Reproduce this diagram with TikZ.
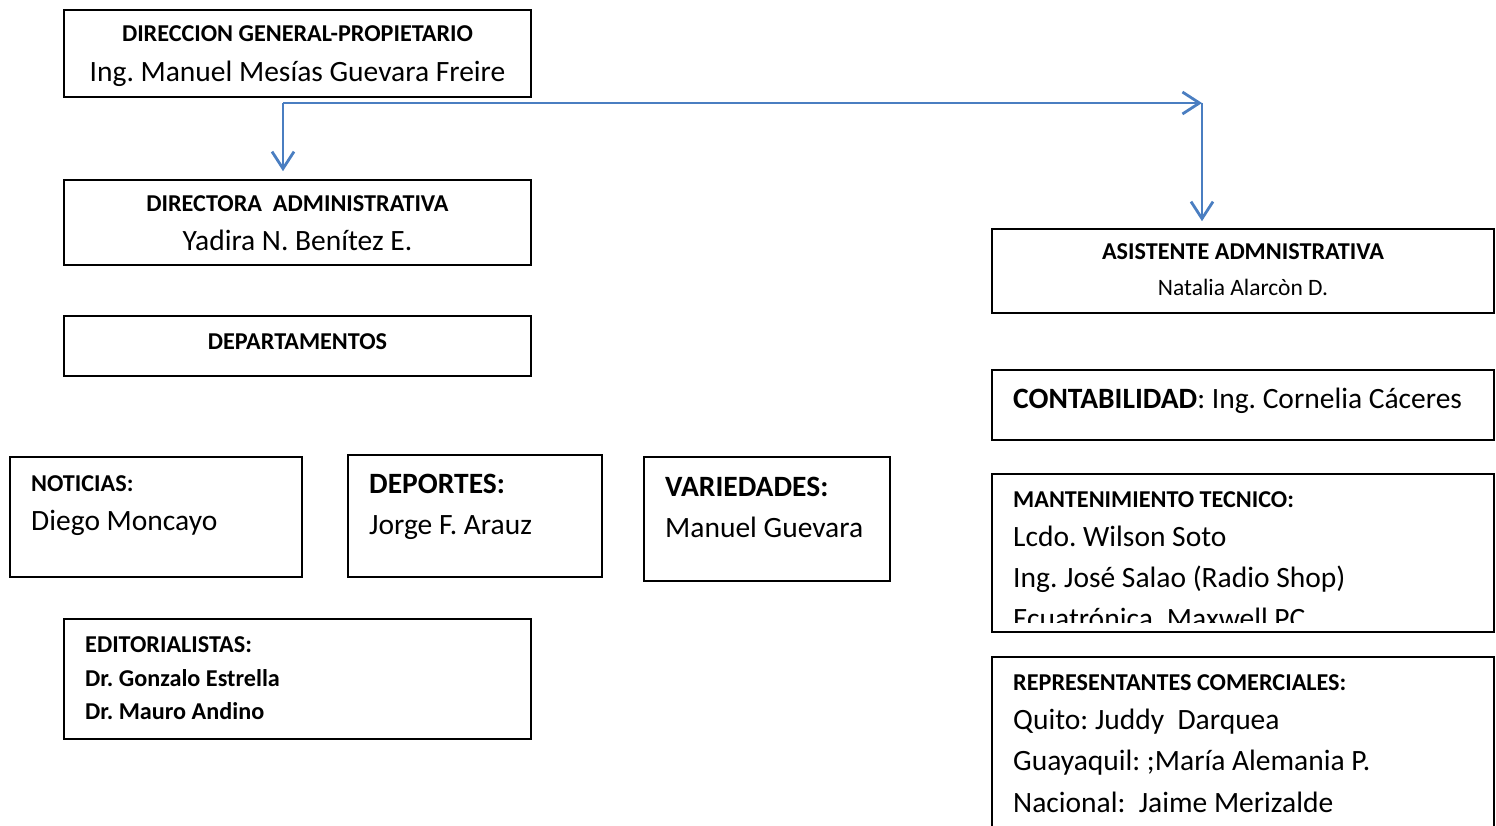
\documentclass[tikz,border=0pt]{standalone}
\usepackage{fontspec}
\setmainfont{Carlito}
\usepackage{tikz}
\usetikzlibrary{arrows.meta}
\definecolor{azul}{RGB}{74,126,193}
\frenchspacing
\newcommand\pq[1]{\fontsize{24.2}{28}\selectfont #1}
\newcommand\gr[1]{\fontsize{29.5}{35}\selectfont #1}
\tikzset{
 caja/.style={draw=black,line width=1.6pt,inner sep=0pt},
 flecha/.style={draw=azul,line width=2.8pt,-{Straight Barb[length=17pt,width=22pt,line width=2.8pt]}},
 izq/.style={anchor=base west,inner sep=0pt},
 cen/.style={anchor=base,inner sep=0pt}
}

\begin{document}
\begin{tikzpicture}[x=1pt,y=-1pt]
\useasboundingbox (0,0) rectangle (1496,826);
% cajas
\node[caja,minimum width=467pt,minimum height=87pt] (gral) at (297.5,53.5) {};
\node[caja,minimum width=467pt,minimum height=85pt] (dir) at (297.5,222.5) {};
\node[caja,minimum width=467pt,minimum height=60pt] (dep) at (297.5,346) {};
\node[caja,minimum width=292pt,minimum height=120pt] (not) at (156,517) {};
\node[caja,minimum width=254pt,minimum height=122pt] (depor) at (475,516) {};
\node[caja,minimum width=246pt,minimum height=124pt] (var) at (767,519) {};
\node[caja,minimum width=467pt,minimum height=120pt] (edit) at (297.5,679) {};
\node[caja,minimum width=502pt,minimum height=84pt] (asis) at (1243,271) {};
\node[caja,minimum width=502pt,minimum height=70pt] (cont) at (1243,405) {};
\node[caja,minimum width=502pt,minimum height=158pt] (mant) at (1243,553) {};
\node[caja,minimum width=502pt,minimum height=180pt] (rep) at (1243,747) {};
% textos
\node[cen] (t1) at (297.5,42) {\pq{\textbf{DIRECCION GENERAL-PROPIETARIO}}};
\node[cen] (t2) at (297.5,82) {\gr{Ing. Manuel Mesías Guevara Freire}};
\node[cen] (t3) at (297.5,212) {\pq{\textbf{DIRECTORA\ \ ADMINISTRATIVA}}};
\node[cen] (t4) at (297.5,251) {\gr{Yadira N. Benítez E.}};
\node[cen] (t5) at (297.5,349) {\pq{\textbf{DEPARTAMENTOS}}};
\node[izq] (t6) at (31,491) {\pq{\textbf{NOTICIAS:}}};
\node[izq] (t7) at (31,530) {\gr{Diego Moncayo}};
\node[izq] (t8) at (369,493) {\gr{\textbf{DEPORTES:}}};
\node[izq] (t9) at (369,534) {\gr{Jorge F. Arauz}};
\node[izq] (t10) at (665,496) {\gr{\textbf{VARIEDADES:}}};
\node[izq] (t11) at (665,537) {\gr{Manuel Guevara}};
\node[izq] (t12) at (85,652) {\pq{\textbf{EDITORIALISTAS:}}};
\node[izq] (t13) at (85,686) {\pq{\textbf{Dr. Gonzalo Estrella}}};
\node[izq] (t14) at (85,719) {\pq{\textbf{Dr. Mauro Andino}}};
\node[cen] (t15) at (1243,260) {\pq{\textbf{ASISTENTE ADMNISTRATIVA}}};
\node[cen] (t16) at (1243,295) {\fontsize{23.5}{28}\selectfont Natalia Alarcòn D.};
\node[izq] (t17) at (1013,408) {\gr{\textbf{CONTABILIDAD}: Ing. Cornelia Cáceres}};
\node[izq] (t18) at (1013,507) {\pq{\textbf{MANTENIMIENTO TECNICO:}}};
\node[izq] (t19) at (1013,546) {\gr{Lcdo. Wilson Soto}};
\node[izq] (t20) at (1013,587) {\gr{Ing. José Salao (Radio Shop)}};
\begin{scope}
\clip (994,480) rectangle (1492,622);
\node[izq] (t21) at (1013,628) {\gr{Ecuatrónica, Maxwell PC}};
\end{scope}
\node[izq] (t22) at (1013,690) {\pq{\textbf{REPRESENTANTES COMERCIALES:}}};
\node[izq] (t23) at (1013,729) {\gr{Quito: Juddy\ \ Darquea}};
\node[izq] (t24) at (1013,770) {\gr{Guayaquil: ;María Alemania P.}};
\node[izq] (t25) at (1013,812) {\gr{Nacional:\ \ Jaime Merizalde}};
% flechas
\coordinate (rama) at (283,103);
\coordinate (giro) at (1202,103);
\draw[flecha,shorten >=8pt] (rama) -- (rama |- dir.north);
\draw[flecha] (rama) -- (giro);
\draw[flecha,shorten >=7pt] (giro) -- (giro |- asis.north);
\end{tikzpicture}
\end{document}
